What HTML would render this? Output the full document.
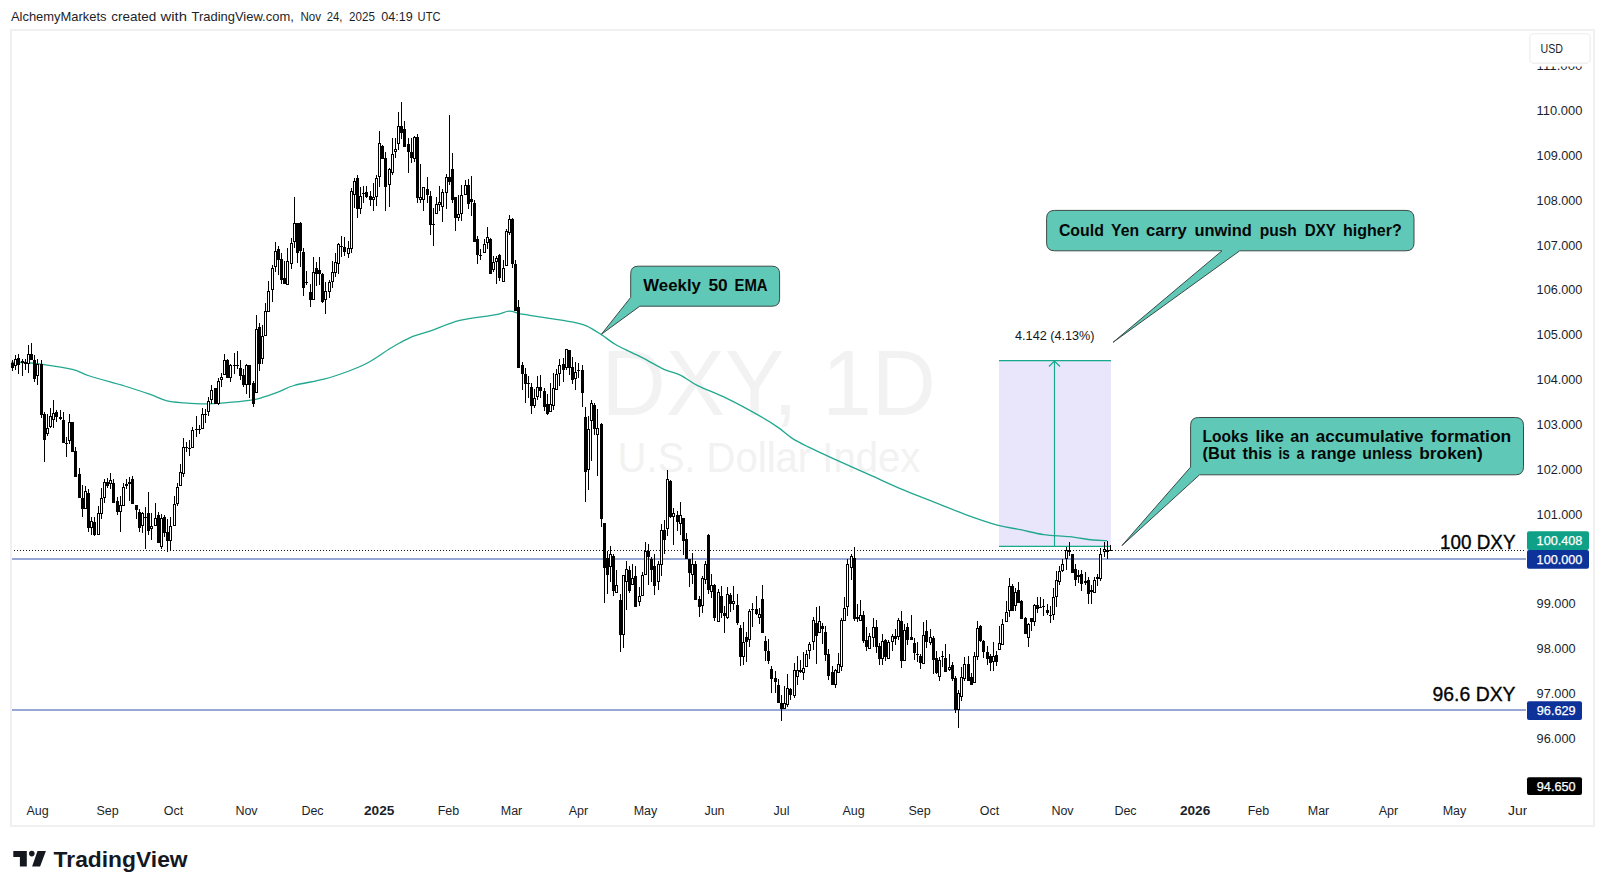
<!DOCTYPE html>
<html lang="en"><head><meta charset="utf-8"><title>DXY 1D - TradingView</title>
<style>
html,body{margin:0;padding:0;background:#fff;}
body{width:1605px;height:892px;overflow:hidden;font-family:"Liberation Sans", Arial, sans-serif;}
svg{display:block;font-family:"Liberation Sans", Arial, sans-serif;}
</style></head><body>
<svg width="1605" height="892" viewBox="0 0 1605 892">
<defs><clipPath id="tclip"><rect x="11" y="795" width="1516" height="30"/></clipPath>
<clipPath id="cclip"><rect x="12" y="31" width="1515" height="770"/></clipPath></defs>
<rect width="1605" height="892" fill="#fff"/>
<rect x="11" y="30" width="1583" height="796" fill="#fff" stroke="#f0f0f1" stroke-width="2"/>
<text x="601.5" y="415.3" font-size="92" fill="#f2f2f2" textLength="334.5" lengthAdjust="spacingAndGlyphs">DXY, 1D</text>
<text x="617.6" y="472.4" font-size="42" fill="#f2f2f2" textLength="302.7" lengthAdjust="spacingAndGlyphs">U.S. Dollar Index</text>
<rect x="999" y="360.5" width="112" height="186" fill="#e9e5fb"/>
<rect x="12" y="558" width="1514" height="2" fill="#98a8d4"/>
<rect x="12" y="709" width="1514" height="2" fill="#98a8d4"/>
<line x1="14" y1="550.5" x2="1524" y2="550.5" stroke="#111" stroke-width="1" stroke-dasharray="1 2" shape-rendering="crispEdges"/>
<path d="M11.0 362.3 C13.3 362.3 19.8 362.2 25.0 362.5 C30.2 362.8 34.5 363.2 42.4 364.3 C50.3 365.4 64.4 367.4 72.3 369.3 C80.2 371.2 81.0 373.2 89.7 376.0 C98.4 378.8 114.6 383.0 124.6 386.0 C134.6 389.0 142.4 391.7 149.5 394.2 C156.6 396.7 161.2 399.4 167.0 400.9 C172.8 402.3 178.2 402.4 184.4 402.9 C190.6 403.4 197.8 403.9 204.4 403.9 C211.1 403.9 216.8 403.5 224.3 402.9 C231.8 402.3 243.0 401.3 249.2 400.4 C255.4 399.5 257.1 399.0 261.7 397.7 C266.3 396.4 271.2 394.7 276.6 392.7 C282.0 390.7 286.1 387.8 294.0 385.5 C301.9 383.2 314.8 381.6 324.0 379.2 C333.2 376.8 341.5 373.8 349.0 371.0 C356.5 368.2 362.2 365.9 368.8 362.3 C375.4 358.7 383.6 352.6 388.8 349.3 C394.0 346.1 395.9 345.0 400.0 342.8 C404.1 340.6 408.6 338.1 413.6 336.1 C418.6 334.2 422.1 333.7 429.8 331.1 C437.5 328.5 449.0 323.1 459.8 320.4 C470.6 317.7 486.4 316.4 494.6 314.9 C502.8 313.4 504.9 311.4 509.1 311.2 C513.3 311.0 515.4 312.9 519.6 313.7 C523.8 314.5 525.8 314.8 534.5 316.2 C543.2 317.6 563.2 320.2 571.9 321.9 C580.6 323.5 581.9 323.9 586.9 326.1 C591.9 328.3 596.8 331.7 601.8 334.9 C606.8 338.1 610.1 341.6 616.8 345.3 C623.4 349.0 633.8 353.3 641.7 357.3 C649.6 361.3 657.5 366.3 664.0 369.3 C670.5 372.3 675.2 372.6 680.8 375.3 C686.4 378.0 690.0 381.8 697.7 385.6 C705.4 389.5 716.3 393.3 726.8 398.4 C737.3 403.5 751.9 411.5 760.5 416.4 C769.1 421.3 773.2 424.0 778.4 427.6 C783.6 431.2 787.0 434.9 791.9 438.1 C796.8 441.3 800.1 442.9 807.6 446.6 C815.1 450.3 826.2 455.3 836.7 460.1 C847.2 464.9 859.2 470.2 870.4 475.2 C881.6 480.2 893.2 485.6 904.0 490.2 C914.8 494.8 925.0 498.5 935.4 502.6 C945.8 506.7 956.0 511.0 966.3 514.8 C976.6 518.5 988.3 522.6 997.3 525.1 C1006.3 527.6 1012.8 528.1 1020.5 529.7 C1028.2 531.3 1035.5 533.4 1043.7 534.6 C1051.9 535.8 1061.3 535.8 1069.5 536.7 C1077.7 537.6 1086.5 539.4 1092.7 540.0 C1098.9 540.6 1104.5 540.5 1106.9 540.6" fill="none" stroke="#22a790" stroke-width="1.3" stroke-linejoin="round"/>
<g stroke="#17a88b" stroke-width="1.15" fill="none"><line x1="999" y1="360.6" x2="1111" y2="360.6"/><line x1="999" y1="546.4" x2="1111" y2="546.4"/><line x1="1054.5" y1="546" x2="1054.5" y2="361"/><path d="M1049 366.5 L1054.5 361 L1060 366.5"/></g>
<g shape-rendering="crispEdges">
<rect x="1110" y="545" width="1" height="6" fill="#000"/>
<rect x="1109" y="550" width="3" height="1" fill="#000"/>
<rect x="1107" y="541" width="1" height="18" fill="#000"/>
<rect x="1106" y="550" width="3" height="2" fill="#000"/>
<rect x="1104" y="542" width="1" height="15" fill="#000"/>
<rect x="1103" y="549" width="3" height="3" fill="#000"/>
<rect x="1104" y="550" width="1" height="1" fill="#fff"/>
<rect x="1100" y="548" width="1" height="33" fill="#000"/>
<rect x="1099" y="554" width="3" height="25" fill="#000"/>
<rect x="1100" y="555" width="1" height="23" fill="#fff"/>
<rect x="1097" y="574" width="1" height="12" fill="#000"/>
<rect x="1096" y="577" width="3" height="2" fill="#000"/>
<rect x="1094" y="577" width="1" height="16" fill="#000"/>
<rect x="1093" y="580" width="3" height="13" fill="#000"/>
<rect x="1094" y="581" width="1" height="11" fill="#fff"/>
<rect x="1091" y="585" width="1" height="19" fill="#000"/>
<rect x="1090" y="590" width="3" height="2" fill="#000"/>
<rect x="1088" y="577" width="1" height="27" fill="#000"/>
<rect x="1087" y="580" width="3" height="14" fill="#000"/>
<rect x="1085" y="572" width="1" height="13" fill="#000"/>
<rect x="1084" y="581" width="3" height="2" fill="#000"/>
<rect x="1081" y="570" width="1" height="21" fill="#000"/>
<rect x="1080" y="574" width="3" height="10" fill="#000"/>
<rect x="1078" y="570" width="1" height="13" fill="#000"/>
<rect x="1077" y="575" width="3" height="2" fill="#000"/>
<rect x="1075" y="564" width="1" height="22" fill="#000"/>
<rect x="1074" y="569" width="3" height="11" fill="#000"/>
<rect x="1072" y="554" width="1" height="19" fill="#000"/>
<rect x="1071" y="554" width="3" height="19" fill="#000"/>
<rect x="1069" y="542" width="1" height="14" fill="#000"/>
<rect x="1068" y="550" width="3" height="2" fill="#000"/>
<rect x="1066" y="547" width="1" height="23" fill="#000"/>
<rect x="1065" y="550" width="3" height="9" fill="#000"/>
<rect x="1066" y="551" width="1" height="7" fill="#fff"/>
<rect x="1062" y="559" width="1" height="13" fill="#000"/>
<rect x="1061" y="564" width="3" height="7" fill="#000"/>
<rect x="1062" y="565" width="1" height="5" fill="#fff"/>
<rect x="1059" y="566" width="1" height="19" fill="#000"/>
<rect x="1058" y="571" width="3" height="11" fill="#000"/>
<rect x="1059" y="572" width="1" height="9" fill="#fff"/>
<rect x="1056" y="571" width="1" height="36" fill="#000"/>
<rect x="1055" y="580" width="3" height="17" fill="#000"/>
<rect x="1056" y="581" width="1" height="15" fill="#fff"/>
<rect x="1053" y="588" width="1" height="32" fill="#000"/>
<rect x="1052" y="597" width="3" height="18" fill="#000"/>
<rect x="1053" y="598" width="1" height="16" fill="#fff"/>
<rect x="1050" y="606" width="1" height="17" fill="#000"/>
<rect x="1049" y="615" width="3" height="1" fill="#000"/>
<rect x="1047" y="604" width="1" height="11" fill="#000"/>
<rect x="1046" y="610" width="3" height="3" fill="#000"/>
<rect x="1043" y="599" width="1" height="17" fill="#000"/>
<rect x="1042" y="606" width="3" height="1" fill="#000"/>
<rect x="1040" y="597" width="1" height="11" fill="#000"/>
<rect x="1039" y="607" width="3" height="1" fill="#000"/>
<rect x="1037" y="597" width="1" height="16" fill="#000"/>
<rect x="1036" y="605" width="3" height="4" fill="#000"/>
<rect x="1034" y="604" width="1" height="22" fill="#000"/>
<rect x="1033" y="605" width="3" height="17" fill="#000"/>
<rect x="1034" y="606" width="1" height="15" fill="#fff"/>
<rect x="1031" y="618" width="1" height="13" fill="#000"/>
<rect x="1030" y="618" width="3" height="4" fill="#000"/>
<rect x="1028" y="623" width="1" height="24" fill="#000"/>
<rect x="1027" y="624" width="3" height="14" fill="#000"/>
<rect x="1028" y="625" width="1" height="12" fill="#fff"/>
<rect x="1025" y="617" width="1" height="17" fill="#000"/>
<rect x="1024" y="618" width="3" height="16" fill="#000"/>
<rect x="1021" y="600" width="1" height="19" fill="#000"/>
<rect x="1020" y="601" width="3" height="18" fill="#000"/>
<rect x="1018" y="582" width="1" height="21" fill="#000"/>
<rect x="1017" y="590" width="3" height="13" fill="#000"/>
<rect x="1015" y="588" width="1" height="23" fill="#000"/>
<rect x="1014" y="592" width="3" height="14" fill="#000"/>
<rect x="1015" y="593" width="1" height="12" fill="#fff"/>
<rect x="1012" y="584" width="1" height="27" fill="#000"/>
<rect x="1011" y="586" width="3" height="25" fill="#000"/>
<rect x="1009" y="578" width="1" height="39" fill="#000"/>
<rect x="1008" y="586" width="3" height="25" fill="#000"/>
<rect x="1009" y="587" width="1" height="23" fill="#fff"/>
<rect x="1006" y="601" width="1" height="21" fill="#000"/>
<rect x="1005" y="612" width="3" height="10" fill="#000"/>
<rect x="1006" y="613" width="1" height="8" fill="#fff"/>
<rect x="1002" y="619" width="1" height="26" fill="#000"/>
<rect x="1001" y="624" width="3" height="21" fill="#000"/>
<rect x="1002" y="625" width="1" height="19" fill="#fff"/>
<rect x="999" y="626" width="1" height="24" fill="#000"/>
<rect x="998" y="643" width="3" height="7" fill="#000"/>
<rect x="999" y="644" width="1" height="5" fill="#fff"/>
<rect x="996" y="651" width="1" height="15" fill="#000"/>
<rect x="995" y="655" width="3" height="7" fill="#000"/>
<rect x="993" y="642" width="1" height="29" fill="#000"/>
<rect x="992" y="656" width="3" height="6" fill="#000"/>
<rect x="993" y="657" width="1" height="4" fill="#fff"/>
<rect x="990" y="654" width="1" height="17" fill="#000"/>
<rect x="989" y="656" width="3" height="7" fill="#000"/>
<rect x="987" y="646" width="1" height="19" fill="#000"/>
<rect x="986" y="652" width="3" height="7" fill="#000"/>
<rect x="983" y="640" width="1" height="18" fill="#000"/>
<rect x="982" y="641" width="3" height="11" fill="#000"/>
<rect x="980" y="625" width="1" height="17" fill="#000"/>
<rect x="979" y="626" width="3" height="15" fill="#000"/>
<rect x="977" y="621" width="1" height="39" fill="#000"/>
<rect x="976" y="628" width="3" height="29" fill="#000"/>
<rect x="977" y="629" width="1" height="27" fill="#fff"/>
<rect x="974" y="652" width="1" height="31" fill="#000"/>
<rect x="973" y="656" width="3" height="27" fill="#000"/>
<rect x="974" y="657" width="1" height="25" fill="#fff"/>
<rect x="971" y="673" width="1" height="12" fill="#000"/>
<rect x="970" y="677" width="3" height="8" fill="#000"/>
<rect x="968" y="656" width="1" height="25" fill="#000"/>
<rect x="967" y="664" width="3" height="17" fill="#000"/>
<rect x="964" y="657" width="1" height="24" fill="#000"/>
<rect x="963" y="664" width="3" height="15" fill="#000"/>
<rect x="964" y="665" width="1" height="13" fill="#fff"/>
<rect x="961" y="667" width="1" height="34" fill="#000"/>
<rect x="960" y="677" width="3" height="20" fill="#000"/>
<rect x="961" y="678" width="1" height="18" fill="#fff"/>
<rect x="958" y="690" width="1" height="38" fill="#000"/>
<rect x="957" y="693" width="3" height="17" fill="#000"/>
<rect x="958" y="694" width="1" height="15" fill="#fff"/>
<rect x="955" y="676" width="1" height="37" fill="#000"/>
<rect x="954" y="678" width="3" height="32" fill="#000"/>
<rect x="952" y="662" width="1" height="19" fill="#000"/>
<rect x="951" y="665" width="3" height="14" fill="#000"/>
<rect x="949" y="654" width="1" height="17" fill="#000"/>
<rect x="948" y="667" width="3" height="3" fill="#000"/>
<rect x="949" y="668" width="1" height="1" fill="#fff"/>
<rect x="945" y="644" width="1" height="28" fill="#000"/>
<rect x="944" y="658" width="3" height="14" fill="#000"/>
<rect x="942" y="651" width="1" height="16" fill="#000"/>
<rect x="941" y="656" width="3" height="1" fill="#000"/>
<rect x="939" y="657" width="1" height="24" fill="#000"/>
<rect x="938" y="660" width="3" height="17" fill="#000"/>
<rect x="939" y="661" width="1" height="15" fill="#fff"/>
<rect x="936" y="651" width="1" height="23" fill="#000"/>
<rect x="935" y="658" width="3" height="15" fill="#000"/>
<rect x="933" y="636" width="1" height="38" fill="#000"/>
<rect x="932" y="638" width="3" height="22" fill="#000"/>
<rect x="930" y="629" width="1" height="16" fill="#000"/>
<rect x="929" y="637" width="3" height="6" fill="#000"/>
<rect x="930" y="638" width="1" height="4" fill="#fff"/>
<rect x="926" y="620" width="1" height="28" fill="#000"/>
<rect x="925" y="631" width="3" height="11" fill="#000"/>
<rect x="923" y="622" width="1" height="42" fill="#000"/>
<rect x="922" y="635" width="3" height="29" fill="#000"/>
<rect x="923" y="636" width="1" height="27" fill="#fff"/>
<rect x="920" y="654" width="1" height="15" fill="#000"/>
<rect x="919" y="656" width="3" height="7" fill="#000"/>
<rect x="917" y="642" width="1" height="20" fill="#000"/>
<rect x="916" y="654" width="3" height="1" fill="#000"/>
<rect x="914" y="638" width="1" height="22" fill="#000"/>
<rect x="913" y="643" width="3" height="10" fill="#000"/>
<rect x="911" y="615" width="1" height="25" fill="#000"/>
<rect x="910" y="637" width="3" height="3" fill="#000"/>
<rect x="907" y="623" width="1" height="22" fill="#000"/>
<rect x="906" y="627" width="3" height="13" fill="#000"/>
<rect x="904" y="624" width="1" height="37" fill="#000"/>
<rect x="903" y="630" width="3" height="31" fill="#000"/>
<rect x="904" y="631" width="1" height="29" fill="#fff"/>
<rect x="901" y="611" width="1" height="57" fill="#000"/>
<rect x="900" y="621" width="3" height="40" fill="#000"/>
<rect x="898" y="618" width="1" height="22" fill="#000"/>
<rect x="897" y="620" width="3" height="17" fill="#000"/>
<rect x="898" y="621" width="1" height="15" fill="#fff"/>
<rect x="895" y="629" width="1" height="16" fill="#000"/>
<rect x="894" y="636" width="3" height="3" fill="#000"/>
<rect x="892" y="634" width="1" height="17" fill="#000"/>
<rect x="891" y="636" width="3" height="6" fill="#000"/>
<rect x="892" y="637" width="1" height="4" fill="#fff"/>
<rect x="888" y="640" width="1" height="19" fill="#000"/>
<rect x="887" y="642" width="3" height="17" fill="#000"/>
<rect x="888" y="643" width="1" height="15" fill="#fff"/>
<rect x="885" y="639" width="1" height="22" fill="#000"/>
<rect x="884" y="640" width="3" height="17" fill="#000"/>
<rect x="882" y="634" width="1" height="31" fill="#000"/>
<rect x="881" y="641" width="3" height="18" fill="#000"/>
<rect x="882" y="642" width="1" height="16" fill="#fff"/>
<rect x="879" y="643" width="1" height="22" fill="#000"/>
<rect x="878" y="646" width="3" height="13" fill="#000"/>
<rect x="876" y="620" width="1" height="33" fill="#000"/>
<rect x="875" y="627" width="3" height="20" fill="#000"/>
<rect x="873" y="618" width="1" height="29" fill="#000"/>
<rect x="872" y="627" width="3" height="11" fill="#000"/>
<rect x="873" y="628" width="1" height="9" fill="#fff"/>
<rect x="869" y="633" width="1" height="16" fill="#000"/>
<rect x="868" y="636" width="3" height="13" fill="#000"/>
<rect x="869" y="637" width="1" height="11" fill="#fff"/>
<rect x="866" y="627" width="1" height="24" fill="#000"/>
<rect x="865" y="640" width="3" height="7" fill="#000"/>
<rect x="863" y="611" width="1" height="32" fill="#000"/>
<rect x="862" y="615" width="3" height="26" fill="#000"/>
<rect x="860" y="600" width="1" height="21" fill="#000"/>
<rect x="859" y="615" width="3" height="6" fill="#000"/>
<rect x="860" y="616" width="1" height="4" fill="#fff"/>
<rect x="857" y="604" width="1" height="18" fill="#000"/>
<rect x="856" y="617" width="3" height="2" fill="#000"/>
<rect x="854" y="547" width="1" height="74" fill="#000"/>
<rect x="853" y="558" width="3" height="61" fill="#000"/>
<rect x="851" y="554" width="1" height="26" fill="#000"/>
<rect x="850" y="556" width="3" height="12" fill="#000"/>
<rect x="851" y="557" width="1" height="10" fill="#fff"/>
<rect x="847" y="559" width="1" height="57" fill="#000"/>
<rect x="846" y="564" width="3" height="43" fill="#000"/>
<rect x="847" y="565" width="1" height="41" fill="#fff"/>
<rect x="844" y="597" width="1" height="24" fill="#000"/>
<rect x="843" y="608" width="3" height="13" fill="#000"/>
<rect x="844" y="609" width="1" height="11" fill="#fff"/>
<rect x="841" y="618" width="1" height="53" fill="#000"/>
<rect x="840" y="620" width="3" height="47" fill="#000"/>
<rect x="841" y="621" width="1" height="45" fill="#fff"/>
<rect x="838" y="653" width="1" height="20" fill="#000"/>
<rect x="837" y="664" width="3" height="9" fill="#000"/>
<rect x="838" y="665" width="1" height="7" fill="#fff"/>
<rect x="835" y="669" width="1" height="19" fill="#000"/>
<rect x="834" y="670" width="3" height="15" fill="#000"/>
<rect x="835" y="671" width="1" height="13" fill="#fff"/>
<rect x="832" y="666" width="1" height="19" fill="#000"/>
<rect x="831" y="672" width="3" height="13" fill="#000"/>
<rect x="828" y="649" width="1" height="31" fill="#000"/>
<rect x="827" y="654" width="3" height="22" fill="#000"/>
<rect x="825" y="626" width="1" height="35" fill="#000"/>
<rect x="824" y="632" width="3" height="23" fill="#000"/>
<rect x="822" y="623" width="1" height="21" fill="#000"/>
<rect x="821" y="626" width="3" height="3" fill="#000"/>
<rect x="819" y="606" width="1" height="27" fill="#000"/>
<rect x="818" y="621" width="3" height="12" fill="#000"/>
<rect x="819" y="622" width="1" height="10" fill="#fff"/>
<rect x="816" y="607" width="1" height="57" fill="#000"/>
<rect x="815" y="623" width="3" height="13" fill="#000"/>
<rect x="813" y="617" width="1" height="33" fill="#000"/>
<rect x="812" y="620" width="3" height="22" fill="#000"/>
<rect x="813" y="621" width="1" height="20" fill="#fff"/>
<rect x="809" y="642" width="1" height="17" fill="#000"/>
<rect x="808" y="644" width="3" height="7" fill="#000"/>
<rect x="809" y="645" width="1" height="5" fill="#fff"/>
<rect x="806" y="650" width="1" height="17" fill="#000"/>
<rect x="805" y="654" width="3" height="13" fill="#000"/>
<rect x="806" y="655" width="1" height="11" fill="#fff"/>
<rect x="803" y="652" width="1" height="28" fill="#000"/>
<rect x="802" y="668" width="3" height="5" fill="#000"/>
<rect x="803" y="669" width="1" height="3" fill="#fff"/>
<rect x="800" y="660" width="1" height="13" fill="#000"/>
<rect x="799" y="670" width="3" height="2" fill="#000"/>
<rect x="797" y="656" width="1" height="29" fill="#000"/>
<rect x="796" y="670" width="3" height="7" fill="#000"/>
<rect x="797" y="671" width="1" height="5" fill="#fff"/>
<rect x="794" y="663" width="1" height="35" fill="#000"/>
<rect x="793" y="670" width="3" height="26" fill="#000"/>
<rect x="794" y="671" width="1" height="24" fill="#fff"/>
<rect x="790" y="688" width="1" height="12" fill="#000"/>
<rect x="789" y="689" width="3" height="6" fill="#000"/>
<rect x="787" y="674" width="1" height="33" fill="#000"/>
<rect x="786" y="688" width="3" height="17" fill="#000"/>
<rect x="787" y="689" width="1" height="15" fill="#fff"/>
<rect x="784" y="686" width="1" height="23" fill="#000"/>
<rect x="783" y="703" width="3" height="6" fill="#000"/>
<rect x="784" y="704" width="1" height="4" fill="#fff"/>
<rect x="781" y="695" width="1" height="26" fill="#000"/>
<rect x="780" y="703" width="3" height="6" fill="#000"/>
<rect x="778" y="679" width="1" height="24" fill="#000"/>
<rect x="777" y="685" width="3" height="18" fill="#000"/>
<rect x="775" y="671" width="1" height="22" fill="#000"/>
<rect x="774" y="678" width="3" height="4" fill="#000"/>
<rect x="771" y="666" width="1" height="27" fill="#000"/>
<rect x="770" y="669" width="3" height="10" fill="#000"/>
<rect x="768" y="639" width="1" height="25" fill="#000"/>
<rect x="767" y="651" width="3" height="10" fill="#000"/>
<rect x="765" y="636" width="1" height="25" fill="#000"/>
<rect x="764" y="641" width="3" height="10" fill="#000"/>
<rect x="762" y="585" width="1" height="48" fill="#000"/>
<rect x="761" y="599" width="3" height="34" fill="#000"/>
<rect x="759" y="608" width="1" height="16" fill="#000"/>
<rect x="758" y="614" width="3" height="4" fill="#000"/>
<rect x="759" y="615" width="1" height="2" fill="#fff"/>
<rect x="756" y="596" width="1" height="19" fill="#000"/>
<rect x="755" y="609" width="3" height="5" fill="#000"/>
<rect x="752" y="603" width="1" height="24" fill="#000"/>
<rect x="751" y="609" width="3" height="1" fill="#000"/>
<rect x="749" y="609" width="1" height="38" fill="#000"/>
<rect x="748" y="611" width="3" height="29" fill="#000"/>
<rect x="749" y="612" width="1" height="27" fill="#fff"/>
<rect x="746" y="632" width="1" height="30" fill="#000"/>
<rect x="745" y="637" width="3" height="5" fill="#000"/>
<rect x="743" y="622" width="1" height="43" fill="#000"/>
<rect x="742" y="642" width="3" height="15" fill="#000"/>
<rect x="743" y="643" width="1" height="13" fill="#fff"/>
<rect x="740" y="625" width="1" height="41" fill="#000"/>
<rect x="739" y="628" width="3" height="29" fill="#000"/>
<rect x="737" y="594" width="1" height="31" fill="#000"/>
<rect x="736" y="605" width="3" height="18" fill="#000"/>
<rect x="733" y="586" width="1" height="24" fill="#000"/>
<rect x="732" y="601" width="3" height="3" fill="#000"/>
<rect x="733" y="602" width="1" height="1" fill="#fff"/>
<rect x="730" y="593" width="1" height="19" fill="#000"/>
<rect x="729" y="595" width="3" height="9" fill="#000"/>
<rect x="727" y="587" width="1" height="32" fill="#000"/>
<rect x="726" y="594" width="3" height="24" fill="#000"/>
<rect x="727" y="595" width="1" height="22" fill="#fff"/>
<rect x="724" y="606" width="1" height="27" fill="#000"/>
<rect x="723" y="613" width="3" height="3" fill="#000"/>
<rect x="721" y="586" width="1" height="32" fill="#000"/>
<rect x="720" y="596" width="3" height="17" fill="#000"/>
<rect x="718" y="589" width="1" height="33" fill="#000"/>
<rect x="717" y="592" width="3" height="30" fill="#000"/>
<rect x="718" y="593" width="1" height="28" fill="#fff"/>
<rect x="714" y="584" width="1" height="37" fill="#000"/>
<rect x="713" y="585" width="3" height="33" fill="#000"/>
<rect x="711" y="574" width="1" height="24" fill="#000"/>
<rect x="710" y="585" width="3" height="7" fill="#000"/>
<rect x="711" y="586" width="1" height="5" fill="#fff"/>
<rect x="708" y="534" width="1" height="60" fill="#000"/>
<rect x="707" y="535" width="3" height="55" fill="#000"/>
<rect x="705" y="561" width="1" height="23" fill="#000"/>
<rect x="704" y="564" width="3" height="16" fill="#000"/>
<rect x="705" y="565" width="1" height="14" fill="#fff"/>
<rect x="702" y="576" width="1" height="37" fill="#000"/>
<rect x="701" y="578" width="3" height="28" fill="#000"/>
<rect x="702" y="579" width="1" height="26" fill="#fff"/>
<rect x="699" y="596" width="1" height="21" fill="#000"/>
<rect x="698" y="599" width="3" height="8" fill="#000"/>
<rect x="695" y="561" width="1" height="39" fill="#000"/>
<rect x="694" y="564" width="3" height="36" fill="#000"/>
<rect x="692" y="553" width="1" height="31" fill="#000"/>
<rect x="691" y="564" width="3" height="11" fill="#000"/>
<rect x="692" y="565" width="1" height="9" fill="#fff"/>
<rect x="689" y="559" width="1" height="28" fill="#000"/>
<rect x="688" y="559" width="3" height="14" fill="#000"/>
<rect x="686" y="533" width="1" height="26" fill="#000"/>
<rect x="685" y="539" width="3" height="20" fill="#000"/>
<rect x="683" y="518" width="1" height="37" fill="#000"/>
<rect x="682" y="518" width="3" height="23" fill="#000"/>
<rect x="680" y="502" width="1" height="33" fill="#000"/>
<rect x="679" y="515" width="3" height="9" fill="#000"/>
<rect x="680" y="516" width="1" height="7" fill="#fff"/>
<rect x="677" y="511" width="1" height="20" fill="#000"/>
<rect x="676" y="515" width="3" height="7" fill="#000"/>
<rect x="673" y="508" width="1" height="37" fill="#000"/>
<rect x="672" y="513" width="3" height="4" fill="#000"/>
<rect x="673" y="514" width="1" height="2" fill="#fff"/>
<rect x="670" y="480" width="1" height="38" fill="#000"/>
<rect x="669" y="481" width="3" height="36" fill="#000"/>
<rect x="667" y="470" width="1" height="66" fill="#000"/>
<rect x="666" y="479" width="3" height="50" fill="#000"/>
<rect x="667" y="480" width="1" height="48" fill="#fff"/>
<rect x="664" y="520" width="1" height="34" fill="#000"/>
<rect x="663" y="530" width="3" height="10" fill="#000"/>
<rect x="661" y="524" width="1" height="52" fill="#000"/>
<rect x="660" y="530" width="3" height="35" fill="#000"/>
<rect x="661" y="531" width="1" height="33" fill="#fff"/>
<rect x="658" y="561" width="1" height="29" fill="#000"/>
<rect x="657" y="564" width="3" height="18" fill="#000"/>
<rect x="658" y="565" width="1" height="16" fill="#fff"/>
<rect x="654" y="554" width="1" height="41" fill="#000"/>
<rect x="653" y="566" width="3" height="20" fill="#000"/>
<rect x="651" y="557" width="1" height="25" fill="#000"/>
<rect x="650" y="559" width="3" height="11" fill="#000"/>
<rect x="648" y="544" width="1" height="41" fill="#000"/>
<rect x="647" y="551" width="3" height="6" fill="#000"/>
<rect x="645" y="542" width="1" height="33" fill="#000"/>
<rect x="644" y="551" width="3" height="24" fill="#000"/>
<rect x="645" y="552" width="1" height="22" fill="#fff"/>
<rect x="642" y="572" width="1" height="24" fill="#000"/>
<rect x="641" y="575" width="3" height="21" fill="#000"/>
<rect x="642" y="576" width="1" height="19" fill="#fff"/>
<rect x="639" y="587" width="1" height="19" fill="#000"/>
<rect x="638" y="596" width="3" height="6" fill="#000"/>
<rect x="639" y="597" width="1" height="4" fill="#fff"/>
<rect x="635" y="566" width="1" height="41" fill="#000"/>
<rect x="634" y="576" width="3" height="31" fill="#000"/>
<rect x="632" y="564" width="1" height="21" fill="#000"/>
<rect x="631" y="578" width="3" height="7" fill="#000"/>
<rect x="632" y="579" width="1" height="5" fill="#fff"/>
<rect x="629" y="566" width="1" height="27" fill="#000"/>
<rect x="628" y="570" width="3" height="21" fill="#000"/>
<rect x="626" y="561" width="1" height="49" fill="#000"/>
<rect x="625" y="569" width="3" height="13" fill="#000"/>
<rect x="626" y="570" width="1" height="11" fill="#fff"/>
<rect x="623" y="575" width="1" height="73" fill="#000"/>
<rect x="622" y="575" width="3" height="60" fill="#000"/>
<rect x="623" y="576" width="1" height="58" fill="#fff"/>
<rect x="620" y="594" width="1" height="58" fill="#000"/>
<rect x="619" y="600" width="3" height="35" fill="#000"/>
<rect x="616" y="570" width="1" height="23" fill="#000"/>
<rect x="615" y="585" width="3" height="8" fill="#000"/>
<rect x="616" y="586" width="1" height="6" fill="#fff"/>
<rect x="613" y="554" width="1" height="42" fill="#000"/>
<rect x="612" y="556" width="3" height="35" fill="#000"/>
<rect x="610" y="546" width="1" height="36" fill="#000"/>
<rect x="609" y="554" width="3" height="13" fill="#000"/>
<rect x="610" y="555" width="1" height="11" fill="#fff"/>
<rect x="607" y="551" width="1" height="43" fill="#000"/>
<rect x="606" y="558" width="3" height="17" fill="#000"/>
<rect x="604" y="523" width="1" height="80" fill="#000"/>
<rect x="603" y="523" width="3" height="45" fill="#000"/>
<rect x="601" y="423" width="1" height="104" fill="#000"/>
<rect x="600" y="424" width="3" height="95" fill="#000"/>
<rect x="597" y="409" width="1" height="67" fill="#000"/>
<rect x="596" y="428" width="3" height="7" fill="#000"/>
<rect x="597" y="429" width="1" height="5" fill="#fff"/>
<rect x="594" y="403" width="1" height="32" fill="#000"/>
<rect x="593" y="405" width="3" height="24" fill="#000"/>
<rect x="591" y="400" width="1" height="61" fill="#000"/>
<rect x="590" y="403" width="3" height="18" fill="#000"/>
<rect x="591" y="404" width="1" height="16" fill="#fff"/>
<rect x="588" y="416" width="1" height="74" fill="#000"/>
<rect x="587" y="429" width="3" height="41" fill="#000"/>
<rect x="588" y="430" width="1" height="39" fill="#fff"/>
<rect x="585" y="407" width="1" height="95" fill="#000"/>
<rect x="584" y="417" width="3" height="55" fill="#000"/>
<rect x="582" y="365" width="1" height="42" fill="#000"/>
<rect x="581" y="370" width="3" height="23" fill="#000"/>
<rect x="578" y="363" width="1" height="15" fill="#000"/>
<rect x="577" y="370" width="3" height="1" fill="#000"/>
<rect x="575" y="362" width="1" height="28" fill="#000"/>
<rect x="574" y="372" width="3" height="7" fill="#000"/>
<rect x="575" y="373" width="1" height="5" fill="#fff"/>
<rect x="572" y="357" width="1" height="27" fill="#000"/>
<rect x="571" y="367" width="3" height="13" fill="#000"/>
<rect x="569" y="350" width="1" height="25" fill="#000"/>
<rect x="568" y="350" width="3" height="18" fill="#000"/>
<rect x="566" y="349" width="1" height="21" fill="#000"/>
<rect x="565" y="349" width="3" height="19" fill="#000"/>
<rect x="566" y="350" width="1" height="17" fill="#fff"/>
<rect x="563" y="358" width="1" height="24" fill="#000"/>
<rect x="562" y="364" width="3" height="6" fill="#000"/>
<rect x="559" y="359" width="1" height="27" fill="#000"/>
<rect x="558" y="365" width="3" height="9" fill="#000"/>
<rect x="559" y="366" width="1" height="7" fill="#fff"/>
<rect x="556" y="369" width="1" height="21" fill="#000"/>
<rect x="555" y="374" width="3" height="16" fill="#000"/>
<rect x="556" y="375" width="1" height="14" fill="#fff"/>
<rect x="553" y="373" width="1" height="37" fill="#000"/>
<rect x="552" y="388" width="3" height="18" fill="#000"/>
<rect x="553" y="389" width="1" height="16" fill="#fff"/>
<rect x="550" y="383" width="1" height="29" fill="#000"/>
<rect x="549" y="404" width="3" height="8" fill="#000"/>
<rect x="550" y="405" width="1" height="6" fill="#fff"/>
<rect x="547" y="394" width="1" height="21" fill="#000"/>
<rect x="546" y="404" width="3" height="10" fill="#000"/>
<rect x="544" y="388" width="1" height="23" fill="#000"/>
<rect x="543" y="391" width="3" height="16" fill="#000"/>
<rect x="540" y="375" width="1" height="23" fill="#000"/>
<rect x="539" y="387" width="3" height="4" fill="#000"/>
<rect x="537" y="376" width="1" height="24" fill="#000"/>
<rect x="536" y="387" width="3" height="10" fill="#000"/>
<rect x="537" y="388" width="1" height="8" fill="#fff"/>
<rect x="534" y="389" width="1" height="19" fill="#000"/>
<rect x="533" y="398" width="3" height="8" fill="#000"/>
<rect x="534" y="399" width="1" height="6" fill="#fff"/>
<rect x="531" y="383" width="1" height="31" fill="#000"/>
<rect x="530" y="387" width="3" height="19" fill="#000"/>
<rect x="528" y="376" width="1" height="22" fill="#000"/>
<rect x="527" y="383" width="3" height="1" fill="#000"/>
<rect x="525" y="368" width="1" height="35" fill="#000"/>
<rect x="524" y="374" width="3" height="10" fill="#000"/>
<rect x="522" y="362" width="1" height="28" fill="#000"/>
<rect x="521" y="365" width="3" height="9" fill="#000"/>
<rect x="518" y="300" width="1" height="68" fill="#000"/>
<rect x="517" y="307" width="3" height="61" fill="#000"/>
<rect x="515" y="260" width="1" height="51" fill="#000"/>
<rect x="514" y="264" width="3" height="47" fill="#000"/>
<rect x="512" y="218" width="1" height="50" fill="#000"/>
<rect x="511" y="219" width="3" height="45" fill="#000"/>
<rect x="509" y="215" width="1" height="20" fill="#000"/>
<rect x="508" y="219" width="3" height="14" fill="#000"/>
<rect x="509" y="220" width="1" height="12" fill="#fff"/>
<rect x="506" y="229" width="1" height="37" fill="#000"/>
<rect x="505" y="231" width="3" height="35" fill="#000"/>
<rect x="506" y="232" width="1" height="33" fill="#fff"/>
<rect x="503" y="260" width="1" height="22" fill="#000"/>
<rect x="502" y="268" width="3" height="14" fill="#000"/>
<rect x="503" y="269" width="1" height="12" fill="#fff"/>
<rect x="499" y="254" width="1" height="27" fill="#000"/>
<rect x="498" y="255" width="3" height="23" fill="#000"/>
<rect x="496" y="256" width="1" height="28" fill="#000"/>
<rect x="495" y="258" width="3" height="4" fill="#000"/>
<rect x="496" y="259" width="1" height="2" fill="#fff"/>
<rect x="493" y="256" width="1" height="16" fill="#000"/>
<rect x="492" y="262" width="3" height="8" fill="#000"/>
<rect x="493" y="263" width="1" height="6" fill="#fff"/>
<rect x="490" y="238" width="1" height="36" fill="#000"/>
<rect x="489" y="239" width="3" height="35" fill="#000"/>
<rect x="487" y="227" width="1" height="22" fill="#000"/>
<rect x="486" y="237" width="3" height="6" fill="#000"/>
<rect x="487" y="238" width="1" height="4" fill="#fff"/>
<rect x="484" y="239" width="1" height="14" fill="#000"/>
<rect x="483" y="244" width="3" height="9" fill="#000"/>
<rect x="484" y="245" width="1" height="7" fill="#fff"/>
<rect x="480" y="249" width="1" height="11" fill="#000"/>
<rect x="479" y="255" width="3" height="1" fill="#000"/>
<rect x="477" y="236" width="1" height="28" fill="#000"/>
<rect x="476" y="239" width="3" height="16" fill="#000"/>
<rect x="474" y="200" width="1" height="42" fill="#000"/>
<rect x="473" y="203" width="3" height="39" fill="#000"/>
<rect x="471" y="176" width="1" height="40" fill="#000"/>
<rect x="470" y="199" width="3" height="3" fill="#000"/>
<rect x="468" y="179" width="1" height="30" fill="#000"/>
<rect x="467" y="185" width="3" height="19" fill="#000"/>
<rect x="465" y="180" width="1" height="15" fill="#000"/>
<rect x="464" y="185" width="3" height="10" fill="#000"/>
<rect x="465" y="186" width="1" height="8" fill="#fff"/>
<rect x="461" y="185" width="1" height="36" fill="#000"/>
<rect x="460" y="195" width="3" height="19" fill="#000"/>
<rect x="461" y="196" width="1" height="17" fill="#fff"/>
<rect x="458" y="195" width="1" height="26" fill="#000"/>
<rect x="457" y="214" width="3" height="4" fill="#000"/>
<rect x="458" y="215" width="1" height="2" fill="#fff"/>
<rect x="455" y="197" width="1" height="34" fill="#000"/>
<rect x="454" y="197" width="3" height="21" fill="#000"/>
<rect x="452" y="153" width="1" height="50" fill="#000"/>
<rect x="451" y="169" width="3" height="31" fill="#000"/>
<rect x="449" y="115" width="1" height="70" fill="#000"/>
<rect x="448" y="177" width="3" height="5" fill="#000"/>
<rect x="446" y="174" width="1" height="35" fill="#000"/>
<rect x="445" y="177" width="3" height="16" fill="#000"/>
<rect x="446" y="178" width="1" height="14" fill="#fff"/>
<rect x="442" y="189" width="1" height="33" fill="#000"/>
<rect x="441" y="192" width="3" height="15" fill="#000"/>
<rect x="442" y="193" width="1" height="13" fill="#fff"/>
<rect x="439" y="186" width="1" height="25" fill="#000"/>
<rect x="438" y="202" width="3" height="3" fill="#000"/>
<rect x="439" y="203" width="1" height="1" fill="#fff"/>
<rect x="436" y="197" width="1" height="17" fill="#000"/>
<rect x="435" y="204" width="3" height="10" fill="#000"/>
<rect x="436" y="205" width="1" height="8" fill="#fff"/>
<rect x="433" y="208" width="1" height="38" fill="#000"/>
<rect x="432" y="224" width="3" height="1" fill="#000"/>
<rect x="430" y="191" width="1" height="44" fill="#000"/>
<rect x="429" y="196" width="3" height="29" fill="#000"/>
<rect x="427" y="177" width="1" height="26" fill="#000"/>
<rect x="426" y="189" width="3" height="6" fill="#000"/>
<rect x="423" y="187" width="1" height="24" fill="#000"/>
<rect x="422" y="187" width="3" height="13" fill="#000"/>
<rect x="423" y="188" width="1" height="11" fill="#fff"/>
<rect x="420" y="164" width="1" height="39" fill="#000"/>
<rect x="419" y="197" width="3" height="3" fill="#000"/>
<rect x="420" y="198" width="1" height="1" fill="#fff"/>
<rect x="417" y="134" width="1" height="69" fill="#000"/>
<rect x="416" y="137" width="3" height="61" fill="#000"/>
<rect x="414" y="136" width="1" height="26" fill="#000"/>
<rect x="413" y="137" width="3" height="22" fill="#000"/>
<rect x="414" y="138" width="1" height="20" fill="#fff"/>
<rect x="411" y="138" width="1" height="25" fill="#000"/>
<rect x="410" y="152" width="3" height="6" fill="#000"/>
<rect x="408" y="138" width="1" height="35" fill="#000"/>
<rect x="407" y="144" width="3" height="8" fill="#000"/>
<rect x="404" y="121" width="1" height="26" fill="#000"/>
<rect x="403" y="129" width="3" height="18" fill="#000"/>
<rect x="401" y="102" width="1" height="37" fill="#000"/>
<rect x="400" y="126" width="3" height="7" fill="#000"/>
<rect x="398" y="112" width="1" height="38" fill="#000"/>
<rect x="397" y="126" width="3" height="18" fill="#000"/>
<rect x="398" y="127" width="1" height="16" fill="#fff"/>
<rect x="395" y="138" width="1" height="20" fill="#000"/>
<rect x="394" y="149" width="3" height="3" fill="#000"/>
<rect x="395" y="150" width="1" height="1" fill="#fff"/>
<rect x="392" y="138" width="1" height="37" fill="#000"/>
<rect x="391" y="154" width="3" height="19" fill="#000"/>
<rect x="392" y="155" width="1" height="17" fill="#fff"/>
<rect x="389" y="168" width="1" height="39" fill="#000"/>
<rect x="388" y="169" width="3" height="16" fill="#000"/>
<rect x="389" y="170" width="1" height="14" fill="#fff"/>
<rect x="385" y="152" width="1" height="59" fill="#000"/>
<rect x="384" y="158" width="3" height="29" fill="#000"/>
<rect x="382" y="145" width="1" height="14" fill="#000"/>
<rect x="381" y="146" width="3" height="13" fill="#000"/>
<rect x="379" y="131" width="1" height="56" fill="#000"/>
<rect x="378" y="143" width="3" height="34" fill="#000"/>
<rect x="379" y="144" width="1" height="32" fill="#fff"/>
<rect x="376" y="175" width="1" height="31" fill="#000"/>
<rect x="375" y="178" width="3" height="19" fill="#000"/>
<rect x="376" y="179" width="1" height="17" fill="#fff"/>
<rect x="373" y="183" width="1" height="28" fill="#000"/>
<rect x="372" y="197" width="3" height="3" fill="#000"/>
<rect x="373" y="198" width="1" height="1" fill="#fff"/>
<rect x="370" y="191" width="1" height="15" fill="#000"/>
<rect x="369" y="196" width="3" height="4" fill="#000"/>
<rect x="366" y="186" width="1" height="12" fill="#000"/>
<rect x="365" y="192" width="3" height="5" fill="#000"/>
<rect x="363" y="186" width="1" height="17" fill="#000"/>
<rect x="362" y="193" width="3" height="1" fill="#000"/>
<rect x="360" y="187" width="1" height="27" fill="#000"/>
<rect x="359" y="196" width="3" height="13" fill="#000"/>
<rect x="360" y="197" width="1" height="11" fill="#fff"/>
<rect x="357" y="175" width="1" height="43" fill="#000"/>
<rect x="356" y="178" width="3" height="31" fill="#000"/>
<rect x="354" y="178" width="1" height="30" fill="#000"/>
<rect x="353" y="181" width="3" height="14" fill="#000"/>
<rect x="354" y="182" width="1" height="12" fill="#fff"/>
<rect x="351" y="188" width="1" height="65" fill="#000"/>
<rect x="350" y="191" width="3" height="58" fill="#000"/>
<rect x="351" y="192" width="1" height="56" fill="#fff"/>
<rect x="348" y="241" width="1" height="17" fill="#000"/>
<rect x="347" y="248" width="3" height="6" fill="#000"/>
<rect x="348" y="249" width="1" height="4" fill="#fff"/>
<rect x="344" y="237" width="1" height="19" fill="#000"/>
<rect x="343" y="247" width="3" height="5" fill="#000"/>
<rect x="341" y="236" width="1" height="21" fill="#000"/>
<rect x="340" y="246" width="3" height="1" fill="#000"/>
<rect x="338" y="243" width="1" height="31" fill="#000"/>
<rect x="337" y="244" width="3" height="20" fill="#000"/>
<rect x="338" y="245" width="1" height="18" fill="#fff"/>
<rect x="335" y="253" width="1" height="24" fill="#000"/>
<rect x="334" y="262" width="3" height="11" fill="#000"/>
<rect x="335" y="263" width="1" height="9" fill="#fff"/>
<rect x="332" y="261" width="1" height="27" fill="#000"/>
<rect x="331" y="272" width="3" height="10" fill="#000"/>
<rect x="332" y="273" width="1" height="8" fill="#fff"/>
<rect x="329" y="280" width="1" height="18" fill="#000"/>
<rect x="328" y="282" width="3" height="10" fill="#000"/>
<rect x="329" y="283" width="1" height="8" fill="#fff"/>
<rect x="325" y="282" width="1" height="32" fill="#000"/>
<rect x="324" y="291" width="3" height="9" fill="#000"/>
<rect x="325" y="292" width="1" height="7" fill="#fff"/>
<rect x="322" y="273" width="1" height="30" fill="#000"/>
<rect x="321" y="274" width="3" height="28" fill="#000"/>
<rect x="319" y="257" width="1" height="28" fill="#000"/>
<rect x="318" y="270" width="3" height="4" fill="#000"/>
<rect x="316" y="262" width="1" height="24" fill="#000"/>
<rect x="315" y="268" width="3" height="6" fill="#000"/>
<rect x="313" y="257" width="1" height="43" fill="#000"/>
<rect x="312" y="272" width="3" height="28" fill="#000"/>
<rect x="313" y="273" width="1" height="26" fill="#fff"/>
<rect x="310" y="284" width="1" height="23" fill="#000"/>
<rect x="309" y="292" width="3" height="8" fill="#000"/>
<rect x="306" y="271" width="1" height="14" fill="#000"/>
<rect x="305" y="282" width="3" height="1" fill="#000"/>
<rect x="303" y="248" width="1" height="48" fill="#000"/>
<rect x="302" y="252" width="3" height="36" fill="#000"/>
<rect x="300" y="222" width="1" height="45" fill="#000"/>
<rect x="299" y="223" width="3" height="28" fill="#000"/>
<rect x="297" y="223" width="1" height="40" fill="#000"/>
<rect x="296" y="223" width="3" height="30" fill="#000"/>
<rect x="294" y="197" width="1" height="51" fill="#000"/>
<rect x="293" y="223" width="3" height="19" fill="#000"/>
<rect x="294" y="224" width="1" height="17" fill="#fff"/>
<rect x="291" y="238" width="1" height="31" fill="#000"/>
<rect x="290" y="243" width="3" height="21" fill="#000"/>
<rect x="291" y="244" width="1" height="19" fill="#fff"/>
<rect x="287" y="248" width="1" height="37" fill="#000"/>
<rect x="286" y="261" width="3" height="24" fill="#000"/>
<rect x="287" y="262" width="1" height="22" fill="#fff"/>
<rect x="284" y="261" width="1" height="23" fill="#000"/>
<rect x="283" y="278" width="3" height="6" fill="#000"/>
<rect x="281" y="253" width="1" height="31" fill="#000"/>
<rect x="280" y="259" width="3" height="21" fill="#000"/>
<rect x="278" y="246" width="1" height="29" fill="#000"/>
<rect x="277" y="249" width="3" height="11" fill="#000"/>
<rect x="275" y="242" width="1" height="30" fill="#000"/>
<rect x="274" y="251" width="3" height="16" fill="#000"/>
<rect x="275" y="252" width="1" height="14" fill="#fff"/>
<rect x="272" y="265" width="1" height="37" fill="#000"/>
<rect x="271" y="268" width="3" height="22" fill="#000"/>
<rect x="272" y="269" width="1" height="20" fill="#fff"/>
<rect x="268" y="281" width="1" height="31" fill="#000"/>
<rect x="267" y="291" width="3" height="21" fill="#000"/>
<rect x="268" y="292" width="1" height="19" fill="#fff"/>
<rect x="265" y="303" width="1" height="33" fill="#000"/>
<rect x="264" y="311" width="3" height="25" fill="#000"/>
<rect x="265" y="312" width="1" height="23" fill="#fff"/>
<rect x="262" y="325" width="1" height="39" fill="#000"/>
<rect x="261" y="336" width="3" height="23" fill="#000"/>
<rect x="262" y="337" width="1" height="21" fill="#fff"/>
<rect x="259" y="323" width="1" height="48" fill="#000"/>
<rect x="258" y="327" width="3" height="37" fill="#000"/>
<rect x="256" y="315" width="1" height="78" fill="#000"/>
<rect x="255" y="329" width="3" height="64" fill="#000"/>
<rect x="256" y="330" width="1" height="62" fill="#fff"/>
<rect x="253" y="381" width="1" height="26" fill="#000"/>
<rect x="252" y="383" width="3" height="21" fill="#000"/>
<rect x="249" y="365" width="1" height="33" fill="#000"/>
<rect x="248" y="365" width="3" height="20" fill="#000"/>
<rect x="246" y="364" width="1" height="30" fill="#000"/>
<rect x="245" y="365" width="3" height="20" fill="#000"/>
<rect x="246" y="366" width="1" height="18" fill="#fff"/>
<rect x="243" y="369" width="1" height="18" fill="#000"/>
<rect x="242" y="375" width="3" height="10" fill="#000"/>
<rect x="240" y="360" width="1" height="20" fill="#000"/>
<rect x="239" y="368" width="3" height="8" fill="#000"/>
<rect x="237" y="351" width="1" height="18" fill="#000"/>
<rect x="236" y="365" width="3" height="1" fill="#000"/>
<rect x="234" y="353" width="1" height="21" fill="#000"/>
<rect x="233" y="365" width="3" height="1" fill="#000"/>
<rect x="230" y="364" width="1" height="18" fill="#000"/>
<rect x="229" y="365" width="3" height="13" fill="#000"/>
<rect x="230" y="366" width="1" height="11" fill="#fff"/>
<rect x="227" y="359" width="1" height="19" fill="#000"/>
<rect x="226" y="360" width="3" height="18" fill="#000"/>
<rect x="224" y="354" width="1" height="21" fill="#000"/>
<rect x="223" y="360" width="3" height="15" fill="#000"/>
<rect x="224" y="361" width="1" height="13" fill="#fff"/>
<rect x="221" y="373" width="1" height="14" fill="#000"/>
<rect x="220" y="377" width="3" height="3" fill="#000"/>
<rect x="221" y="378" width="1" height="1" fill="#fff"/>
<rect x="218" y="378" width="1" height="27" fill="#000"/>
<rect x="217" y="381" width="3" height="23" fill="#000"/>
<rect x="218" y="382" width="1" height="21" fill="#fff"/>
<rect x="215" y="388" width="1" height="16" fill="#000"/>
<rect x="214" y="388" width="3" height="16" fill="#000"/>
<rect x="211" y="385" width="1" height="19" fill="#000"/>
<rect x="210" y="390" width="3" height="10" fill="#000"/>
<rect x="211" y="391" width="1" height="8" fill="#fff"/>
<rect x="208" y="397" width="1" height="19" fill="#000"/>
<rect x="207" y="401" width="3" height="11" fill="#000"/>
<rect x="208" y="402" width="1" height="9" fill="#fff"/>
<rect x="205" y="409" width="1" height="14" fill="#000"/>
<rect x="204" y="414" width="3" height="1" fill="#000"/>
<rect x="202" y="408" width="1" height="21" fill="#000"/>
<rect x="201" y="414" width="3" height="15" fill="#000"/>
<rect x="202" y="415" width="1" height="13" fill="#fff"/>
<rect x="199" y="425" width="1" height="9" fill="#000"/>
<rect x="198" y="429" width="3" height="1" fill="#000"/>
<rect x="196" y="416" width="1" height="21" fill="#000"/>
<rect x="195" y="429" width="3" height="1" fill="#000"/>
<rect x="192" y="427" width="1" height="21" fill="#000"/>
<rect x="191" y="430" width="3" height="18" fill="#000"/>
<rect x="192" y="431" width="1" height="16" fill="#fff"/>
<rect x="189" y="440" width="1" height="16" fill="#000"/>
<rect x="188" y="448" width="3" height="1" fill="#000"/>
<rect x="186" y="442" width="1" height="10" fill="#000"/>
<rect x="185" y="447" width="3" height="1" fill="#000"/>
<rect x="183" y="438" width="1" height="39" fill="#000"/>
<rect x="182" y="447" width="3" height="27" fill="#000"/>
<rect x="183" y="448" width="1" height="25" fill="#fff"/>
<rect x="180" y="464" width="1" height="22" fill="#000"/>
<rect x="179" y="472" width="3" height="14" fill="#000"/>
<rect x="180" y="473" width="1" height="12" fill="#fff"/>
<rect x="177" y="483" width="1" height="23" fill="#000"/>
<rect x="176" y="487" width="3" height="17" fill="#000"/>
<rect x="177" y="488" width="1" height="15" fill="#fff"/>
<rect x="174" y="496" width="1" height="30" fill="#000"/>
<rect x="173" y="504" width="3" height="22" fill="#000"/>
<rect x="174" y="505" width="1" height="20" fill="#fff"/>
<rect x="170" y="517" width="1" height="34" fill="#000"/>
<rect x="169" y="526" width="3" height="15" fill="#000"/>
<rect x="170" y="527" width="1" height="13" fill="#fff"/>
<rect x="167" y="519" width="1" height="33" fill="#000"/>
<rect x="166" y="532" width="3" height="9" fill="#000"/>
<rect x="164" y="515" width="1" height="22" fill="#000"/>
<rect x="163" y="517" width="3" height="16" fill="#000"/>
<rect x="161" y="514" width="1" height="35" fill="#000"/>
<rect x="160" y="518" width="3" height="29" fill="#000"/>
<rect x="161" y="519" width="1" height="27" fill="#fff"/>
<rect x="158" y="512" width="1" height="31" fill="#000"/>
<rect x="157" y="515" width="3" height="28" fill="#000"/>
<rect x="155" y="503" width="1" height="23" fill="#000"/>
<rect x="154" y="518" width="3" height="8" fill="#000"/>
<rect x="155" y="519" width="1" height="6" fill="#fff"/>
<rect x="151" y="513" width="1" height="27" fill="#000"/>
<rect x="150" y="526" width="3" height="3" fill="#000"/>
<rect x="151" y="527" width="1" height="1" fill="#fff"/>
<rect x="148" y="492" width="1" height="43" fill="#000"/>
<rect x="147" y="513" width="3" height="18" fill="#000"/>
<rect x="145" y="507" width="1" height="42" fill="#000"/>
<rect x="144" y="517" width="3" height="1" fill="#000"/>
<rect x="142" y="512" width="1" height="21" fill="#000"/>
<rect x="141" y="513" width="3" height="13" fill="#000"/>
<rect x="142" y="514" width="1" height="11" fill="#fff"/>
<rect x="139" y="509" width="1" height="23" fill="#000"/>
<rect x="138" y="512" width="3" height="16" fill="#000"/>
<rect x="136" y="505" width="1" height="14" fill="#000"/>
<rect x="135" y="505" width="3" height="5" fill="#000"/>
<rect x="132" y="476" width="1" height="28" fill="#000"/>
<rect x="131" y="479" width="3" height="25" fill="#000"/>
<rect x="129" y="477" width="1" height="24" fill="#000"/>
<rect x="128" y="482" width="3" height="2" fill="#000"/>
<rect x="126" y="479" width="1" height="10" fill="#000"/>
<rect x="125" y="484" width="3" height="2" fill="#000"/>
<rect x="123" y="483" width="1" height="23" fill="#000"/>
<rect x="122" y="487" width="3" height="19" fill="#000"/>
<rect x="123" y="488" width="1" height="17" fill="#fff"/>
<rect x="120" y="496" width="1" height="36" fill="#000"/>
<rect x="119" y="505" width="3" height="7" fill="#000"/>
<rect x="120" y="506" width="1" height="5" fill="#fff"/>
<rect x="117" y="497" width="1" height="18" fill="#000"/>
<rect x="116" y="501" width="3" height="11" fill="#000"/>
<rect x="113" y="479" width="1" height="24" fill="#000"/>
<rect x="112" y="483" width="3" height="20" fill="#000"/>
<rect x="110" y="473" width="1" height="16" fill="#000"/>
<rect x="109" y="480" width="3" height="4" fill="#000"/>
<rect x="110" y="481" width="1" height="2" fill="#fff"/>
<rect x="107" y="478" width="1" height="10" fill="#000"/>
<rect x="106" y="482" width="3" height="4" fill="#000"/>
<rect x="104" y="479" width="1" height="24" fill="#000"/>
<rect x="103" y="482" width="3" height="16" fill="#000"/>
<rect x="104" y="483" width="1" height="14" fill="#fff"/>
<rect x="101" y="488" width="1" height="31" fill="#000"/>
<rect x="100" y="498" width="3" height="16" fill="#000"/>
<rect x="101" y="499" width="1" height="14" fill="#fff"/>
<rect x="98" y="506" width="1" height="29" fill="#000"/>
<rect x="97" y="513" width="3" height="22" fill="#000"/>
<rect x="98" y="514" width="1" height="20" fill="#fff"/>
<rect x="94" y="517" width="1" height="19" fill="#000"/>
<rect x="93" y="522" width="3" height="13" fill="#000"/>
<rect x="91" y="517" width="1" height="18" fill="#000"/>
<rect x="90" y="521" width="3" height="7" fill="#000"/>
<rect x="91" y="522" width="1" height="5" fill="#fff"/>
<rect x="88" y="489" width="1" height="43" fill="#000"/>
<rect x="87" y="493" width="3" height="35" fill="#000"/>
<rect x="85" y="486" width="1" height="23" fill="#000"/>
<rect x="84" y="491" width="3" height="18" fill="#000"/>
<rect x="85" y="492" width="1" height="16" fill="#fff"/>
<rect x="82" y="485" width="1" height="32" fill="#000"/>
<rect x="81" y="498" width="3" height="11" fill="#000"/>
<rect x="79" y="468" width="1" height="30" fill="#000"/>
<rect x="78" y="474" width="3" height="24" fill="#000"/>
<rect x="75" y="447" width="1" height="30" fill="#000"/>
<rect x="74" y="451" width="3" height="26" fill="#000"/>
<rect x="72" y="422" width="1" height="30" fill="#000"/>
<rect x="71" y="422" width="3" height="30" fill="#000"/>
<rect x="69" y="414" width="1" height="30" fill="#000"/>
<rect x="68" y="422" width="3" height="19" fill="#000"/>
<rect x="69" y="423" width="1" height="17" fill="#fff"/>
<rect x="66" y="437" width="1" height="20" fill="#000"/>
<rect x="65" y="443" width="3" height="1" fill="#000"/>
<rect x="63" y="412" width="1" height="31" fill="#000"/>
<rect x="62" y="420" width="3" height="23" fill="#000"/>
<rect x="60" y="410" width="1" height="10" fill="#000"/>
<rect x="59" y="417" width="3" height="2" fill="#000"/>
<rect x="56" y="410" width="1" height="12" fill="#000"/>
<rect x="55" y="412" width="3" height="5" fill="#000"/>
<rect x="53" y="400" width="1" height="28" fill="#000"/>
<rect x="52" y="413" width="3" height="7" fill="#000"/>
<rect x="53" y="414" width="1" height="5" fill="#fff"/>
<rect x="50" y="408" width="1" height="20" fill="#000"/>
<rect x="49" y="416" width="3" height="11" fill="#000"/>
<rect x="50" y="417" width="1" height="9" fill="#fff"/>
<rect x="47" y="414" width="1" height="22" fill="#000"/>
<rect x="46" y="428" width="3" height="6" fill="#000"/>
<rect x="47" y="429" width="1" height="4" fill="#fff"/>
<rect x="44" y="412" width="1" height="50" fill="#000"/>
<rect x="43" y="414" width="3" height="26" fill="#000"/>
<rect x="41" y="360" width="1" height="58" fill="#000"/>
<rect x="40" y="364" width="3" height="51" fill="#000"/>
<rect x="37" y="359" width="1" height="26" fill="#000"/>
<rect x="36" y="364" width="3" height="12" fill="#000"/>
<rect x="37" y="365" width="1" height="10" fill="#fff"/>
<rect x="34" y="355" width="1" height="27" fill="#000"/>
<rect x="33" y="360" width="3" height="19" fill="#000"/>
<rect x="31" y="343" width="1" height="17" fill="#000"/>
<rect x="30" y="354" width="3" height="6" fill="#000"/>
<rect x="28" y="345" width="1" height="28" fill="#000"/>
<rect x="27" y="354" width="3" height="10" fill="#000"/>
<rect x="28" y="355" width="1" height="8" fill="#fff"/>
<rect x="25" y="359" width="1" height="11" fill="#000"/>
<rect x="24" y="362" width="3" height="2" fill="#000"/>
<rect x="22" y="359" width="1" height="17" fill="#000"/>
<rect x="21" y="361" width="3" height="2" fill="#000"/>
<rect x="18" y="354" width="1" height="20" fill="#000"/>
<rect x="17" y="358" width="3" height="7" fill="#000"/>
<rect x="15" y="355" width="1" height="15" fill="#000"/>
<rect x="14" y="359" width="3" height="7" fill="#000"/>
<rect x="15" y="360" width="1" height="5" fill="#fff"/>
<rect x="12" y="360" width="1" height="11" fill="#000"/>
<rect x="11" y="363" width="3" height="5" fill="#000"/>
</g>
<text x="1054.8" y="339.8" text-anchor="middle" font-size="12" fill="#131722" textLength="79.5" lengthAdjust="spacingAndGlyphs">4.142 (4.13%)</text>
<path d="M638.2 266.2 H772.1 Q779.6 266.2 779.6 273.7 V298.7 Q779.6 306.2 772.1 306.2 H639.8 L601.5 334.2 L630.7 297.4 V273.7 Q630.7 266.2 638.2 266.2 Z" fill="#5fc8b7" stroke="#3c4a47" stroke-width="1"/>
<text x="643.3" y="290.5" font-size="16.8" fill="#050807" font-weight="bold" textLength="57.6" lengthAdjust="spacingAndGlyphs">Weekly</text>
<text x="708.4" y="290.5" font-size="16.8" fill="#050807" font-weight="bold" textLength="19.3" lengthAdjust="spacingAndGlyphs">50</text>
<text x="734.5" y="290.5" font-size="16.8" fill="#050807" font-weight="bold" textLength="33.1" lengthAdjust="spacingAndGlyphs">EMA</text>
<path d="M1054.6 210.4 H1406 Q1414 210.4 1414 218.4 V242.8 Q1414 250.8 1406 250.8 H1239.7 L1113.1 342.3 L1222 250.8 H1054.6 Q1046.6 250.8 1046.6 242.8 V218.4 Q1046.6 210.4 1054.6 210.4 Z" fill="#5fc8b7" stroke="#3c4a47" stroke-width="1"/>
<text x="1058.9" y="235.6" font-size="16.8" fill="#050807" font-weight="bold" textLength="45.0" lengthAdjust="spacingAndGlyphs">Could</text>
<text x="1111" y="235.6" font-size="16.8" fill="#050807" font-weight="bold" textLength="28.0" lengthAdjust="spacingAndGlyphs">Yen</text>
<text x="1146.1" y="235.6" font-size="16.8" fill="#050807" font-weight="bold" textLength="40.7" lengthAdjust="spacingAndGlyphs">carry</text>
<text x="1194.4" y="235.6" font-size="16.8" fill="#050807" font-weight="bold" textLength="57.5" lengthAdjust="spacingAndGlyphs">unwind</text>
<text x="1259.7" y="235.6" font-size="16.8" fill="#050807" font-weight="bold" textLength="37.2" lengthAdjust="spacingAndGlyphs">push</text>
<text x="1304.7" y="235.6" font-size="16.8" fill="#050807" font-weight="bold" textLength="31.2" lengthAdjust="spacingAndGlyphs">DXY</text>
<text x="1343" y="235.6" font-size="16.8" fill="#050807" font-weight="bold" textLength="58.7" lengthAdjust="spacingAndGlyphs">higher?</text>
<path d="M1198.6 417.5 H1515.5 Q1523.5 417.5 1523.5 425.5 V466.8 Q1523.5 474.8 1515.5 474.8 H1199.5 L1122 545.5 L1190.6 467.1 V425.5 Q1190.6 417.5 1198.6 417.5 Z" fill="#5fc8b7" stroke="#3c4a47" stroke-width="1"/>
<text x="1202.6" y="441.9" font-size="16.8" fill="#050807" font-weight="bold" textLength="45.8" lengthAdjust="spacingAndGlyphs">Looks</text>
<text x="1255.5" y="441.9" font-size="16.8" fill="#050807" font-weight="bold" textLength="28.4" lengthAdjust="spacingAndGlyphs">like</text>
<text x="1290.3" y="441.9" font-size="16.8" fill="#050807" font-weight="bold" textLength="18.9" lengthAdjust="spacingAndGlyphs">an</text>
<text x="1315.7" y="441.9" font-size="16.8" fill="#050807" font-weight="bold" textLength="107.9" lengthAdjust="spacingAndGlyphs">accumulative</text>
<text x="1430.7" y="441.9" font-size="16.8" fill="#050807" font-weight="bold" textLength="80.6" lengthAdjust="spacingAndGlyphs">formation</text>
<text x="1202.6" y="459.2" font-size="16.8" fill="#050807" font-weight="bold" textLength="32.9" lengthAdjust="spacingAndGlyphs">(But</text>
<text x="1242.6" y="459.2" font-size="16.8" fill="#050807" font-weight="bold" textLength="29.5" lengthAdjust="spacingAndGlyphs">this</text>
<text x="1278.5" y="459.2" font-size="16.8" fill="#050807" font-weight="bold" textLength="11.4" lengthAdjust="spacingAndGlyphs">is</text>
<text x="1296.4" y="459.2" font-size="16.8" fill="#050807" font-weight="bold" textLength="7.9" lengthAdjust="spacingAndGlyphs">a</text>
<text x="1310.8" y="459.2" font-size="16.8" fill="#050807" font-weight="bold" textLength="45.1" lengthAdjust="spacingAndGlyphs">range</text>
<text x="1362.3" y="459.2" font-size="16.8" fill="#050807" font-weight="bold" textLength="50.1" lengthAdjust="spacingAndGlyphs">unless</text>
<text x="1419.3" y="459.2" font-size="16.8" fill="#050807" font-weight="bold" textLength="63.4" lengthAdjust="spacingAndGlyphs">broken)</text>
<text x="1515.5" y="548.5" text-anchor="end" font-size="19.5" fill="#050505" stroke="#050505" stroke-width="0.35" textLength="75.5" lengthAdjust="spacingAndGlyphs">100 DXY</text>
<text x="1515.5" y="700.5" text-anchor="end" font-size="19.5" fill="#050505" stroke="#050505" stroke-width="0.35" textLength="83" lengthAdjust="spacingAndGlyphs">96.6 DXY</text>
<text x="1536.6" y="742.9" font-size="12.5" fill="#1b1f2b" textLength="39" lengthAdjust="spacingAndGlyphs">96.000</text>
<text x="1536.6" y="698.1" font-size="12.5" fill="#1b1f2b" textLength="39" lengthAdjust="spacingAndGlyphs">97.000</text>
<text x="1536.6" y="653.2" font-size="12.5" fill="#1b1f2b" textLength="39" lengthAdjust="spacingAndGlyphs">98.000</text>
<text x="1536.6" y="608.4" font-size="12.5" fill="#1b1f2b" textLength="39" lengthAdjust="spacingAndGlyphs">99.000</text>
<text x="1536.6" y="518.6" font-size="12.5" fill="#1b1f2b" textLength="45.8" lengthAdjust="spacingAndGlyphs">101.000</text>
<text x="1536.6" y="473.8" font-size="12.5" fill="#1b1f2b" textLength="45.8" lengthAdjust="spacingAndGlyphs">102.000</text>
<text x="1536.6" y="428.9" font-size="12.5" fill="#1b1f2b" textLength="45.8" lengthAdjust="spacingAndGlyphs">103.000</text>
<text x="1536.6" y="384.1" font-size="12.5" fill="#1b1f2b" textLength="45.8" lengthAdjust="spacingAndGlyphs">104.000</text>
<text x="1536.6" y="339.2" font-size="12.5" fill="#1b1f2b" textLength="45.8" lengthAdjust="spacingAndGlyphs">105.000</text>
<text x="1536.6" y="294.3" font-size="12.5" fill="#1b1f2b" textLength="45.8" lengthAdjust="spacingAndGlyphs">106.000</text>
<text x="1536.6" y="249.5" font-size="12.5" fill="#1b1f2b" textLength="45.8" lengthAdjust="spacingAndGlyphs">107.000</text>
<text x="1536.6" y="204.6" font-size="12.5" fill="#1b1f2b" textLength="45.8" lengthAdjust="spacingAndGlyphs">108.000</text>
<text x="1536.6" y="159.8" font-size="12.5" fill="#1b1f2b" textLength="45.8" lengthAdjust="spacingAndGlyphs">109.000</text>
<text x="1536.6" y="114.9" font-size="12.5" fill="#1b1f2b" textLength="45.8" lengthAdjust="spacingAndGlyphs">110.000</text>
<text x="1536.6" y="70.0" font-size="12.5" fill="#1b1f2b" textLength="45.8" lengthAdjust="spacingAndGlyphs">111.000</text>
<rect x="1527" y="31" width="66" height="35.5" fill="#fff"/>
<rect x="1529.8" y="33.6" width="60.4" height="29.6" rx="4" fill="#fff" stroke="#f0f0f1" stroke-width="1.4"/>
<text x="1540.5" y="52.7" font-size="12" fill="#1b1f2b" textLength="22.5" lengthAdjust="spacingAndGlyphs">USD</text>
<rect x="1527" y="531.2" width="62" height="18.8" rx="2" fill="#0fa187"/>
<text x="1536.6" y="545.0" font-size="12.5" fill="#fff" stroke="#fff" stroke-width="0.25" textLength="45.8" lengthAdjust="spacingAndGlyphs">100.408</text>
<rect x="1527" y="550" width="62" height="18.8" rx="2" fill="#0d3299"/>
<text x="1536.6" y="563.8" font-size="12.5" fill="#fff" stroke="#fff" stroke-width="0.25" textLength="45.8" lengthAdjust="spacingAndGlyphs">100.000</text>
<rect x="1527" y="701.2" width="55" height="18.9" rx="2" fill="#0d3299"/>
<text x="1536.8" y="715.3" font-size="12.5" fill="#fff" stroke="#fff" stroke-width="0.25" textLength="38.8" lengthAdjust="spacingAndGlyphs">96.629</text>
<rect x="1527" y="777.3" width="55" height="17.6" rx="2" fill="#000"/>
<text x="1536.8" y="790.6" font-size="12.5" fill="#fff" stroke="#fff" stroke-width="0.25" textLength="38.8" lengthAdjust="spacingAndGlyphs">94.650</text>

<g clip-path="url(#tclip)">
<text x="37.5" y="814.5" text-anchor="middle" font-size="12.5" fill="#1b1f2b">Aug</text>
<text x="107.5" y="814.5" text-anchor="middle" font-size="12.5" fill="#1b1f2b">Sep</text>
<text x="173.5" y="814.5" text-anchor="middle" font-size="12.5" fill="#1b1f2b">Oct</text>
<text x="246.5" y="814.5" text-anchor="middle" font-size="12.5" fill="#1b1f2b">Nov</text>
<text x="312.5" y="814.5" text-anchor="middle" font-size="12.5" fill="#1b1f2b">Dec</text>
<text x="364.0" y="814.5" font-size="12.5" fill="#1b1f2b" font-weight="bold" textLength="30.4" lengthAdjust="spacingAndGlyphs">2025</text>
<text x="448.5" y="814.5" text-anchor="middle" font-size="12.5" fill="#1b1f2b">Feb</text>
<text x="511.5" y="814.5" text-anchor="middle" font-size="12.5" fill="#1b1f2b">Mar</text>
<text x="578.5" y="814.5" text-anchor="middle" font-size="12.5" fill="#1b1f2b">Apr</text>
<text x="645.5" y="814.5" text-anchor="middle" font-size="12.5" fill="#1b1f2b">May</text>
<text x="714.5" y="814.5" text-anchor="middle" font-size="12.5" fill="#1b1f2b">Jun</text>
<text x="781.5" y="814.5" text-anchor="middle" font-size="12.5" fill="#1b1f2b">Jul</text>
<text x="853.5" y="814.5" text-anchor="middle" font-size="12.5" fill="#1b1f2b">Aug</text>
<text x="919.5" y="814.5" text-anchor="middle" font-size="12.5" fill="#1b1f2b">Sep</text>
<text x="989.5" y="814.5" text-anchor="middle" font-size="12.5" fill="#1b1f2b">Oct</text>
<text x="1062.5" y="814.5" text-anchor="middle" font-size="12.5" fill="#1b1f2b">Nov</text>
<text x="1125.5" y="814.5" text-anchor="middle" font-size="12.5" fill="#1b1f2b">Dec</text>
<text x="1179.9" y="814.5" font-size="12.5" fill="#1b1f2b" font-weight="bold" textLength="30.4" lengthAdjust="spacingAndGlyphs">2026</text>
<text x="1258.5" y="814.5" text-anchor="middle" font-size="12.5" fill="#1b1f2b">Feb</text>
<text x="1318.5" y="814.5" text-anchor="middle" font-size="12.5" fill="#1b1f2b">Mar</text>
<text x="1388.5" y="814.5" text-anchor="middle" font-size="12.5" fill="#1b1f2b">Apr</text>
<text x="1454.5" y="814.5" text-anchor="middle" font-size="12.5" fill="#1b1f2b">May</text>
<text x="1508" y="814.5" font-size="12.5" fill="#1b1f2b" textLength="22.5" lengthAdjust="spacingAndGlyphs">Jun</text>
</g>
<text x="10.9" y="21.2" font-size="13.5" fill="#1b1f2b" textLength="95.7" lengthAdjust="spacingAndGlyphs">AlchemyMarkets</text>
<text x="111.2" y="21.2" font-size="13.5" fill="#1b1f2b" textLength="45.0" lengthAdjust="spacingAndGlyphs">created</text>
<text x="160.5" y="21.2" font-size="13.5" fill="#1b1f2b" textLength="26.4" lengthAdjust="spacingAndGlyphs">with</text>
<text x="191.5" y="21.2" font-size="13.5" fill="#1b1f2b" textLength="102.3" lengthAdjust="spacingAndGlyphs">TradingView.com,</text>
<text x="300.4" y="21.2" font-size="13.5" fill="#1b1f2b" textLength="20.6" lengthAdjust="spacingAndGlyphs">Nov</text>
<text x="326.7" y="21.2" font-size="13.5" fill="#1b1f2b" textLength="15.8" lengthAdjust="spacingAndGlyphs">24,</text>
<text x="349.1" y="21.2" font-size="13.5" fill="#1b1f2b" textLength="25.8" lengthAdjust="spacingAndGlyphs">2025</text>
<text x="381.2" y="21.2" font-size="13.5" fill="#1b1f2b" textLength="31.5" lengthAdjust="spacingAndGlyphs">04:19</text>
<text x="417.6" y="21.2" font-size="13.5" fill="#1b1f2b" textLength="22.9" lengthAdjust="spacingAndGlyphs">UTC</text>
<g fill="#15181f"><path d="M13.3 851 H26.8 V866.5 H19.9 V856.9 H13.3 Z"/><circle cx="31.8" cy="853.6" r="2.8"/><path d="M35.3 851 H45.9 L40.1 866.5 H32.1 L37.5 851 Z"/></g>
<text x="53.6" y="866.5" font-size="21.6" font-weight="bold" fill="#15181f" textLength="134" lengthAdjust="spacingAndGlyphs">TradingView</text>

</svg>
</body></html>
